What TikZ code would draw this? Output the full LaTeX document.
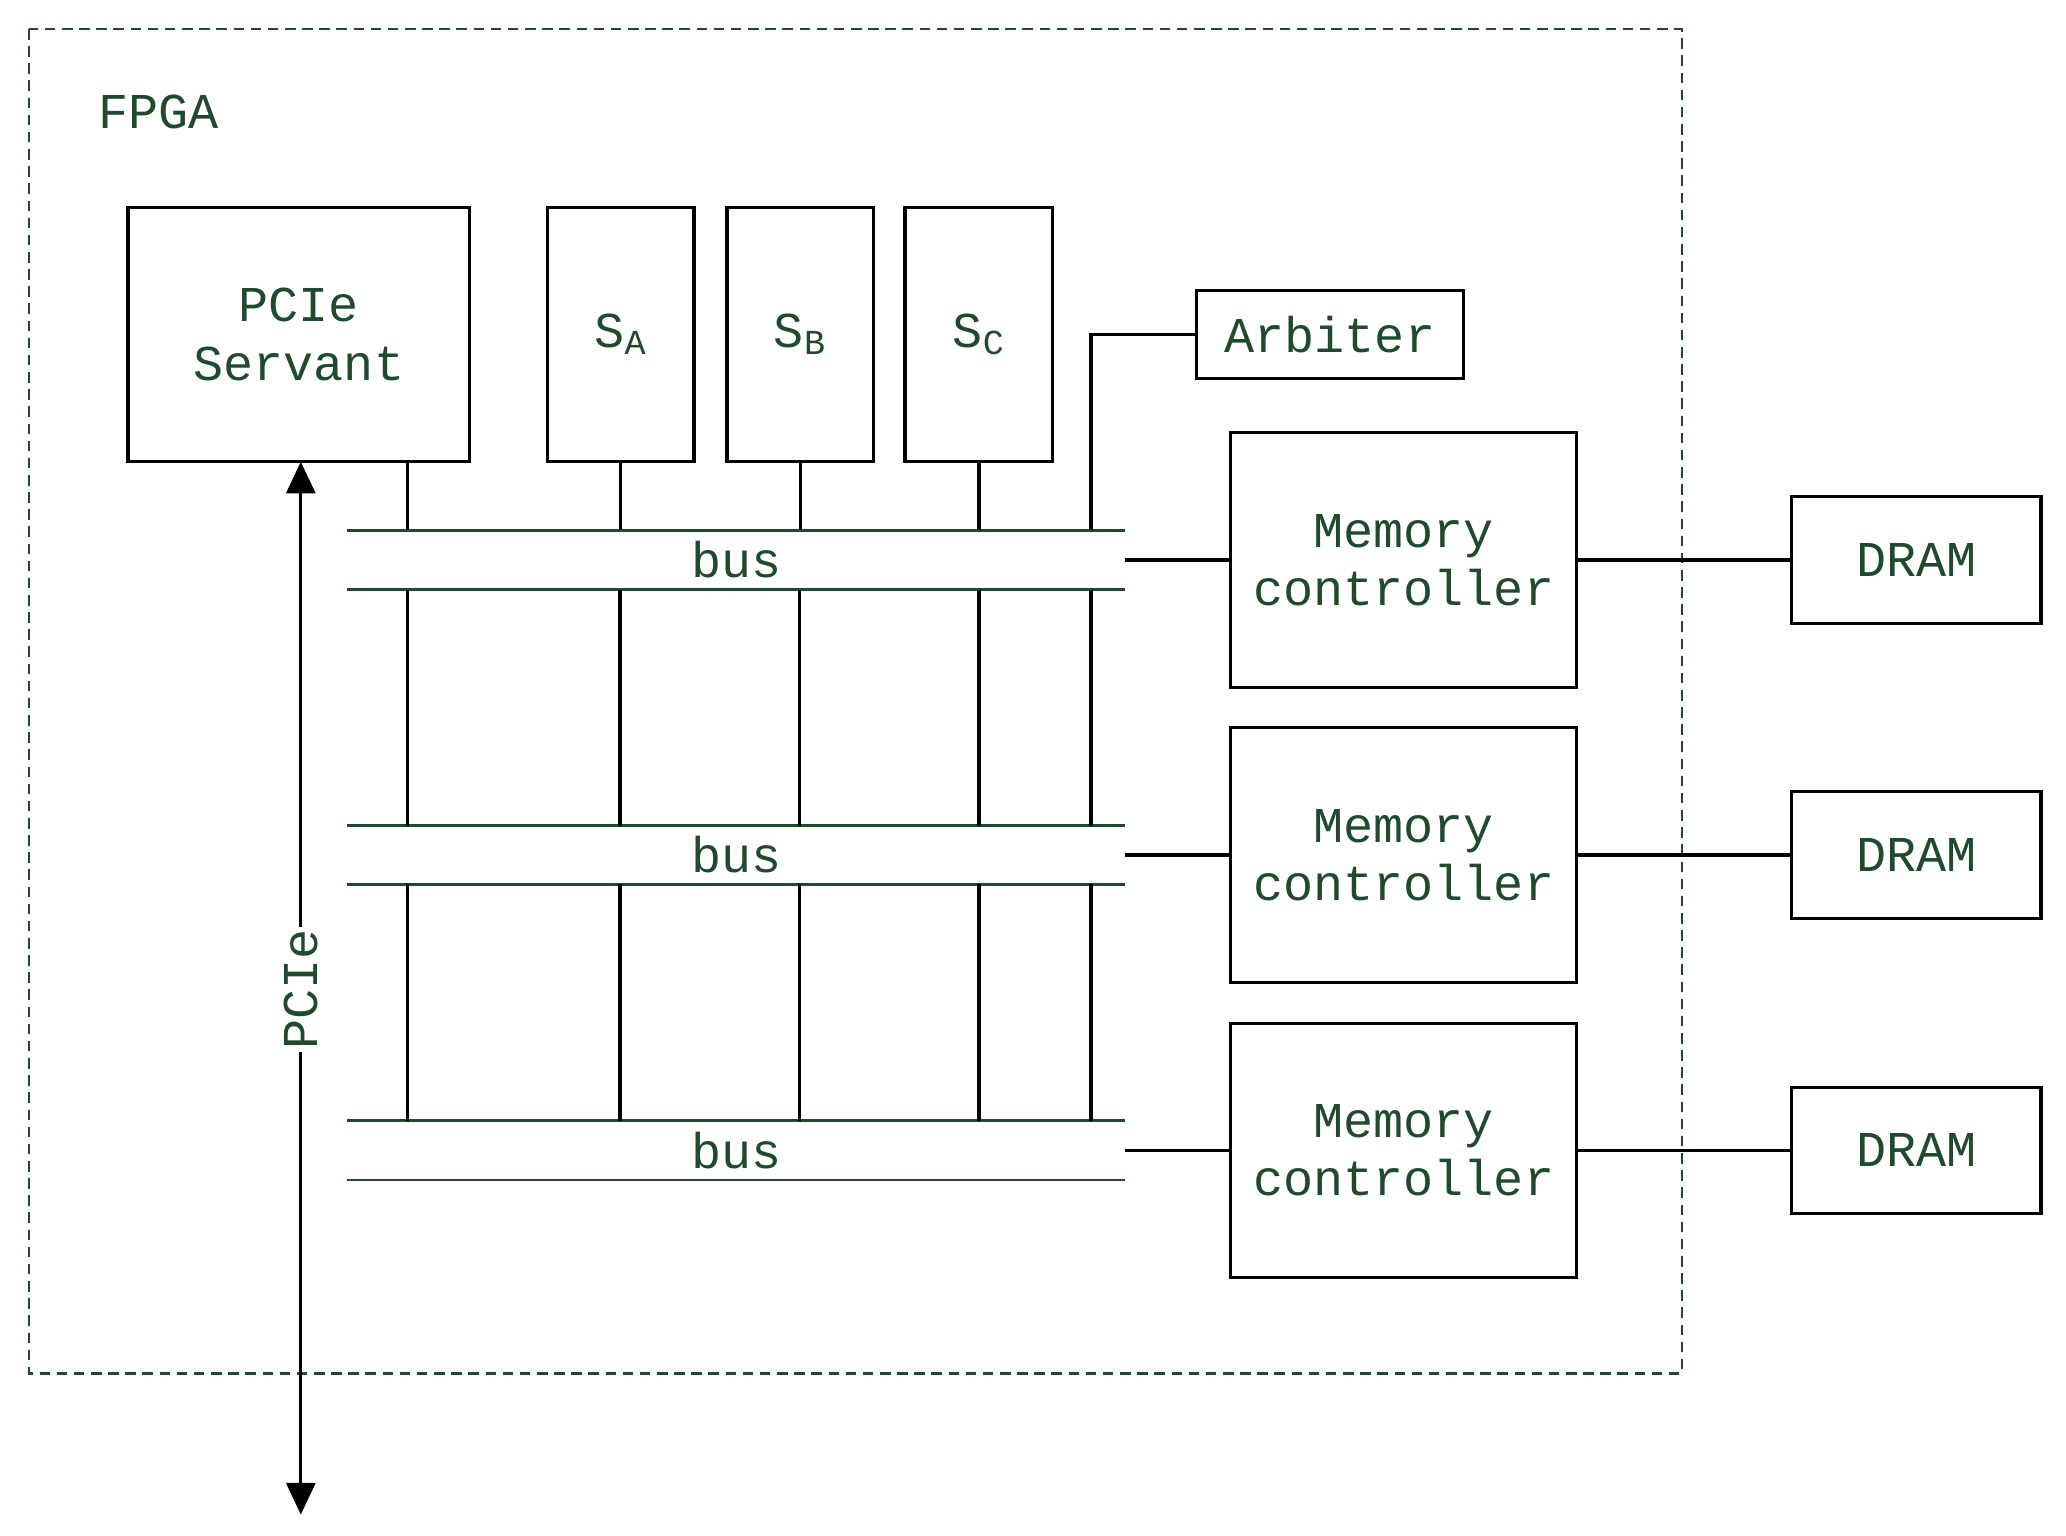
\documentclass[tikz,border=0pt]{standalone}
\usepackage{fontspec}
\setmainfont{Liberation Mono}
\usetikzlibrary{arrows.meta}
\definecolor{dg}{HTML}{1F4A2C}
\begin{document}
\begin{tikzpicture}[x=0.5pt,y=-0.5pt,
  box/.style={draw=black,line width=1.2pt,text=dg,font=\fontsize{19}{22}\selectfont,align=center,inner sep=0},
  bus/.style={draw=dg,line width=1pt},
  wire/.style={draw=black,line width=1.2pt},
  lbl/.style={text=dg,font=\fontsize{19}{22}\selectfont}]
\useasboundingbox (0,0) rectangle (1566,1164);
\draw[dg,dash pattern=on 4pt off 2.5pt,line width=1pt] (22,22) rectangle (1275,1041);
\node[lbl] (fpga) at (120,85) {FPGA};
\node[box,minimum width=129.5pt,minimum height=96.5pt] (ps) at (226.5,253.5) {PCIe\\Servant};
\node[box,minimum width=55.5pt,minimum height=96.5pt] (sa) at (470.5,253.5) {S\textsubscript{A}};
\node[box,minimum width=55.5pt,minimum height=96.5pt] (sb) at (606.5,253.5) {S\textsubscript{B}};
\node[box,minimum width=56pt,minimum height=96.5pt] (sc) at (742,253.5) {S\textsubscript{C}};
\node[box,minimum width=101pt,minimum height=33.5pt] (arb) at (1008,253.5) {Arbiter};
\foreach \i/\y in {1/424.5,2/648,3/872}{
  \draw[bus] (263,\y-22.5) -- (853,\y-22.5);
  \draw[bus] (263,\y+22.5) -- (853,\y+22.5);
  \node[lbl] (bus\i) at (558,\y) {bus};
  \coordinate (be\i) at (853,\y);
  \node[box,minimum width=131pt,minimum height=96.5pt] (mc\i) at (1064,\y) {Memory\\controller};
  \node[box,minimum width=94.5pt,minimum height=48pt] (dr\i) at (1452.5,\y) {DRAM};
  \draw[wire] (be\i) -- (mc\i.west);
  \draw[wire] (mc\i.east) -- (dr\i.west);
}
\coordinate (b1t) at (0,402);
\draw[wire] (309,350) -- (309,402);
\foreach \n in {sa,sb,sc} \draw[wire] (\n.south) -- (\n.south |- b1t);
\draw[wire] (arb.west) -- (827,253.5) -- (827,402);
\foreach \x in {309,470,606,742,827}{
  \draw[wire] (\x,447) -- (\x,626);
  \draw[wire] (\x,670) -- (\x,850);
}
\coordinate (pe) at (228,1148);
\draw[wire,{Triangle[width=11pt,length=12pt]}-{Triangle[width=11pt,length=12pt]}] (228,350) -- (pe);
\node[lbl,fill=white,rotate=90,inner sep=1pt] (pcie) at (228,750) {PCIe};
\end{tikzpicture}
\end{document}
